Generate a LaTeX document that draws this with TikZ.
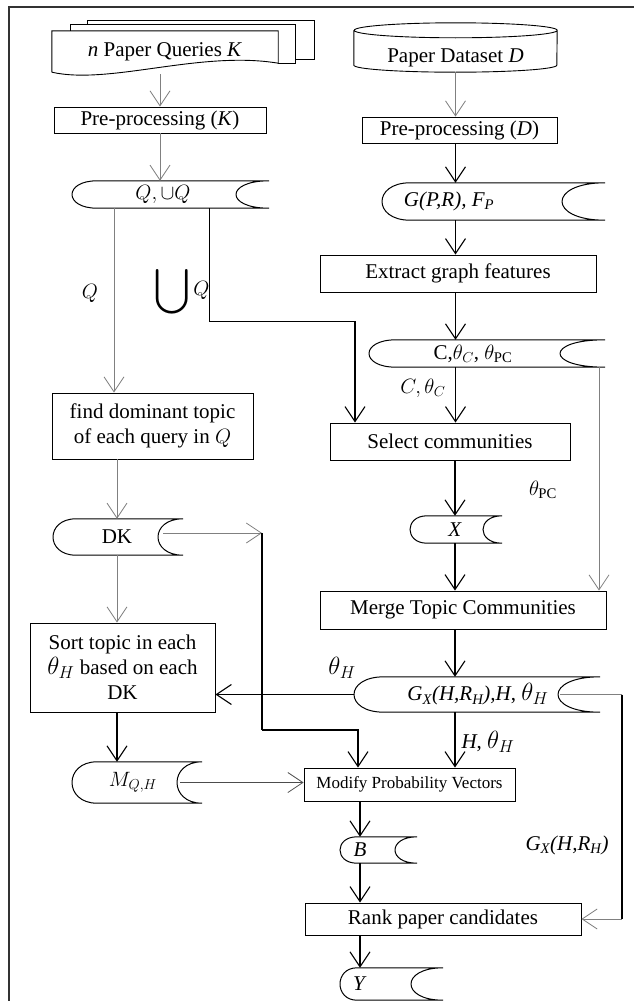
\documentclass[tikz,border=0pt]{standalone}
\usepackage{fontspec}
\usepackage{graphicx}
\setmainfont{Liberation Serif}
\usetikzlibrary{arrows.meta,calc}

% outline of a stored-data symbol round a node: left/right extent, left/right bulge
\newcommand\storeshape[5]{%
  \draw[line width=1pt] ([xshift={(#4-#2)*1pt}]#1.north) -- ([xshift=#3pt]#1.north)
    .. controls ([xshift={(#3-1.333*#5)*1pt}]#1.north) and ([xshift={(#3-1.333*#5)*1pt}]#1.south) .. ([xshift=#3pt]#1.south)
    -- ([xshift={(#4-#2)*1pt}]#1.south)
    .. controls ([xshift={(#4-#2-1.333*#4)*1pt}]#1.south) and ([xshift={(#4-#2-1.333*#4)*1pt}]#1.north) .. cycle;}

\begin{document}
\begin{tikzpicture}[x=1pt,y=1pt,font=\fontsize{21}{25}\selectfont,
 >={Straight Barb[length=15pt,width=20pt]},
 proc/.style={draw,line width=0.9pt,inner sep=0pt,align=center},
 dstore/.style={inner sep=0pt,minimum height=#1},
 garr/.style={->,draw=black!50,line width=0.8pt},
 barr/.style={->,line width=1.1pt}]
\useasboundingbox (0,0) rectangle (634,-1001);
\draw[line width=2.5pt,black!80] (9,-1001) -- (9,-7) -- (634,-7);

% left column
\node[minimum width=226pt,minimum height=41pt,inner sep=0pt] (qry) at (165,-51.5) {\textit{n} Paper Queries \textit{K}};
\draw[line width=0.9pt] (qry.south west) -- (qry.north west) -- (qry.north east) -- ([yshift=9pt]qry.south east)
  .. controls ($(qry.south east)+(-78,22)$) and ($(qry.south west)+(58,-13)$) .. (qry.south west);
\draw[line width=0.9pt] ($(qry.north west)+(19,0)$) -- ++(0,6) -- ($(qry.north east)+(17,6)$) -- ($(qry.south east)+(17,9)$) -- ++(-17,0);
\draw[line width=0.9pt] ($(qry.north west)+(36,6)$) -- ++(0,4) -- ($(qry.north east)+(36,10)$) -- ($(qry.south east)+(36,13)$) -- ++(-19,0);
\node[proc,minimum width=212pt,minimum height=26pt] (ppk) at (160,-120) {Pre-processing (\textit{K})};
\node[dstore=27pt] (qset) at (163,-194.5) {$Q,\cup Q$};
\node[proc,minimum width=201pt,minimum height=66pt] (fdt) at (152.5,-426) {find dominant topic\\of each query in $Q$};
\node[dstore=36pt] (dk) at (117,-537) {DK};
\node[proc,minimum width=185pt,minimum height=89pt] (srt) at (122.5,-667.5) {Sort topic in each\\{\fontsize{25}{25}\selectfont$\theta_H$} based on each\\DK};
\node[dstore=41pt] (mqh) at (133,-782.5) {$M_{Q,H}$};

% right column
\node[minimum width=203pt,minimum height=49pt,inner sep=0pt,text height=29pt,text depth=0pt] (db) at (455.5,-47.5) {Paper Dataset \textit{D}};
\draw[line width=0.9pt] ([yshift=-7.5pt]db.north west) -- ([yshift=7pt]db.south west)
  arc[start angle=180,end angle=360,x radius=101.5pt,y radius=7pt] -- ([yshift=-7.5pt]db.north east)
  arc[start angle=0,end angle=360,x radius=101.5pt,y radius=7.5pt];
\node[proc,minimum width=195pt,minimum height=26pt] (ppd) at (459.5,-130) {Pre-processing (\textit{D})};
\node[dstore=37pt] (gpr) at (449,-201.5) {\textit{G(P,R), F\textsubscript{P}}};
\node[proc,minimum width=276pt,minimum height=37pt] (ext) at (458,-273.5) {Extract graph features};
\node[dstore=27pt] (cth) at (473,-353.5) {C,$\theta_C$, $\theta_{\mathrm{PC}}$};
\node[proc,minimum width=240pt,minimum height=37pt] (sel) at (450,-441.5) {Select communities};
\node[dstore=27pt] (xst) at (455,-529.5) {\textit{X}};
\node[proc,minimum width=286pt,minimum height=38pt] (mrg) at (463,-610) {Merge Topic Communities};
\node[dstore=35pt] (gx) at (478,-694.5) {\textit{G\textsubscript{X}(H,R\textsubscript{H}),H}, {\fontsize{25}{25}\selectfont$\theta_H$}};
\node[proc,minimum width=211pt,minimum height=33pt] (mod) at (409.5,-784.5) {\fontsize{17}{20}\selectfont Modify Probability Vectors};
\node[dstore=26pt] (bst) at (360,-850) {\textit{B}};
\node[proc,minimum width=276pt,minimum height=32pt] (rnk) at (443,-919) {Rank paper candidates};
\node[dstore=32pt] (yst) at (360,-984) {\textit{Y}};

\foreach \n/\l/\r/\a/\b in {qset/91/106/25/33,gpr/67/156/28/43,cth/104/132/27/45,xst/45/47/17/19,
  gx/124/122/30/42,dk/64/66/23/25,mqh/61/69/25/25,bst/20/57/17/22,yst/20/83/17/32}
  \storeshape{\n}{\l}{\r}{\a}{\b};

% labels
\node (lq) at (90,-293) {$Q$};
\node (lun) at (182,-292) {\resizebox{!}{42pt}{$\displaystyle\bigcup$}\,\raisebox{13pt}{$Q$}};
\node (lct) at (423,-388) {$C,\theta_C$};
\node (ltpc) at (543,-490) {$\theta_{\mathrm{PC}}$};
\node (lth) at (342,-668) {\fontsize{25}{25}\selectfont$\theta_H$};
\node (lhth) at (488,-742) {\textit{H}, {\fontsize{25}{25}\selectfont$\theta_H$}};
\node (lgx) at (567,-845) {\textit{G\textsubscript{X}(H,R\textsubscript{H})}};

% connectors, left
\coordinate (qa) at ([xshift=-49pt]qset.south);
\coordinate (qb) at ([xshift=46pt]qset.south);
\coordinate (ub) at ($(qb)+(0,-113.5)$);
\draw[garr] ($(ppk.north |- qry.south)+(0,-2)$) -- (ppk.north);
\draw[garr] (ppk.south) -- (ppk.south |- qset.north);
\draw[garr] (qa) -- (qa |- fdt.north);
\draw[line width=0.8pt] (qb) -- (ub);
\draw[barr] (ub) -| ([xshift=-95pt]sel.north);
\draw[garr] (dk.north |- fdt.south) -- (dk.north);
\draw[garr] (dk.south) -- (dk.south |- srt.north);
\draw[barr] (dk.south |- srt.south) -- (dk.south |- mqh.north);
\draw[->,draw=black!70,line width=0.8pt] ([xshift=47pt]mqh.center) -- (mqh.center -| mod.west);
\coordinate (dkc) at ($(dk.center)+(145,4)$);
\coordinate (dkb) at ($(dkc)+(0,-197)$);
\draw[garr] ([xshift=46pt,yshift=4pt]dk.center) -- (dkc);
\draw[line width=2pt] (dkc) -- (dkb);
\draw[barr] (dkb) -| ([xshift=-51.5pt]mod.north);

% connectors, right
\coordinate (pc) at ([xshift=126pt]cth.south);
\coordinate (ga) at ($(gx.center)+(144,0)$);
\coordinate (gb) at (ga |- rnk.east);
\draw[garr] (db.south) -- (db.south |- ppd.north);
\draw[barr] (db.south |- ppd.south) -- (db.south |- gpr.north);
\draw[barr] (db.south |- gpr.south) -- (db.south |- ext.north);
\draw[barr] (db.south |- ext.south) -- (db.south |- cth.north);
\draw[barr] (db.south |- cth.south) -- (db.south |- sel.north);
\draw[garr] (pc) -- (pc |- mrg.north);
\draw[barr] (xst.north |- sel.south) -- (xst.north);
\draw[barr] (xst.south) -- (xst.south |- mrg.north);
\draw[barr] (xst.south |- mrg.south) -- (xst.south |- gx.north);
\draw[barr] ([xshift=-124pt]gx.center) -- (gx.center -| srt.east);
\draw[barr] (xst.south |- gx.south) -- (xst.south |- mod.north);
\draw[draw=black!50,line width=0.8pt] ([xshift=82pt]gx.center) -- (ga);
\draw[line width=2pt] (ga) -- (gb);
\draw[garr] (gb) -- (rnk.east);
\draw[barr] (bst.north |- mod.south) -- (bst.north);
\draw[barr] (bst.south) -- (bst.south |- rnk.north);
\draw[barr] (bst.south |- rnk.south) -- (bst.south |- yst.north);
\end{tikzpicture}
\end{document}
